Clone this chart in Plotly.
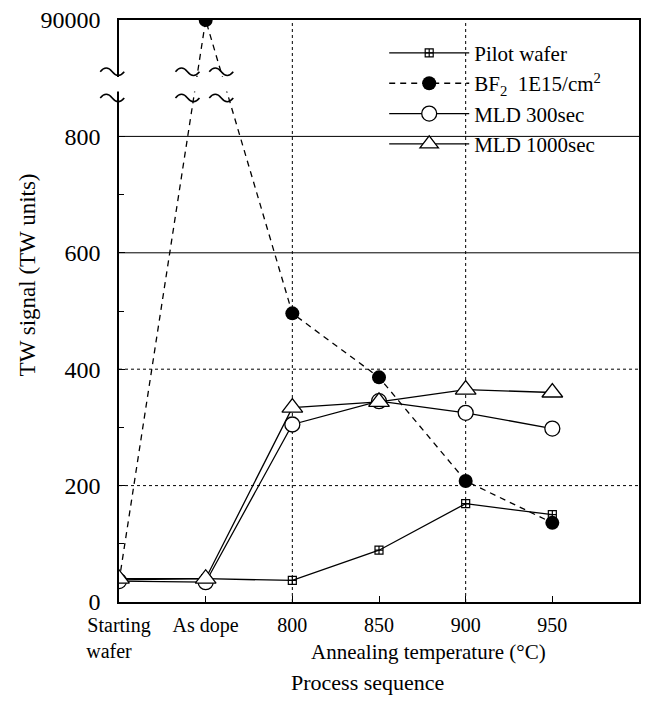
import plotly.graph_objects as go

# ---------------- data ----------------
categories = ["Starting<br>wafer&nbsp;&nbsp;&nbsp;&nbsp;", "As dope", "800", "850", "900", "950"]
pilot_wafer = [38, 40, 37, 89, 169, 150]
bf2_1e15 = [35, 90000, 496, 386, 208, 136]
mld_300 = [36, 34, 305, 345, 325, 298]
mld_1000 = [40, 40, 334, 344, 365, 360]
y_tick_values = [0, 200, 400, 600, 800, 90000]
y_tick_labels = ["0", "200", "400", "600", "800", "90000"]

# broken axis: everything above the break is drawn at the axis top
BREAK_LOW = 900
AXIS_TOP = 1000


def ymap(v):
    return v if v <= BREAK_LOW else AXIS_TOP


xs = list(range(len(categories)))
FONT = "Liberation Serif, Times New Roman, serif"

fig = go.Figure()

fig.add_trace(go.Scatter(
    x=xs, y=[ymap(v) for v in pilot_wafer], name="Pilot wafer",
    mode="lines+markers", legendgroup="a",
    line=dict(color="black", width=1.3),
    marker=dict(symbol="square-cross-open", size=8, color="black",
                line=dict(color="black", width=1.2)),
))
fig.add_trace(go.Scatter(
    x=xs, y=[ymap(v) for v in bf2_1e15], name="BF<sub>2</sub>  1E15/cm<sup>2</sup>",
    mode="lines+markers", legendgroup="b",
    line=dict(color="black", width=1.3, dash="6px,5px"),
    marker=dict(symbol="circle", size=14, color="black"),
))
fig.add_trace(go.Scatter(
    x=xs, y=[ymap(v) for v in mld_300], name="MLD 300sec",
    mode="lines+markers", legendgroup="c",
    line=dict(color="black", width=1.3),
    marker=dict(symbol="circle", size=15, color="white",
                line=dict(color="black", width=1.3)),
))
fig.add_trace(go.Scatter(
    x=xs, y=[ymap(v) for v in mld_1000], name="MLD 1000sec",
    mode="lines+markers", legendgroup="d",
    line=dict(color="black", width=1.3),
    marker=dict(symbol="triangle-up", size=18, color="white",
                line=dict(color="black", width=1.3)),
))

shapes = []
# horizontal grid lines (dotted low, solid high)
for v in [200, 400]:
    shapes.append(dict(type="line", xref="paper", yref="y", x0=0, x1=1, y0=v, y1=v,
                       line=dict(color="black", width=1, dash="dot"), layer="below"))
for v in [600, 800]:
    shapes.append(dict(type="line", xref="paper", yref="y", x0=0, x1=1, y0=v, y1=v,
                       line=dict(color="black", width=1), layer="below"))
# vertical dotted grid lines at 800 and 900 °C
for c in ["800", "900"]:
    xi = categories.index(c)
    shapes.append(dict(type="line", xref="x", yref="paper", x0=xi, x1=xi, y0=0, y1=1,
                       line=dict(color="black", width=1, dash="dot"), layer="below"))
# white gap for the axis break
shapes.append(dict(type="rect", xref="paper", yref="y", x0=-0.03, x1=0.3,
                   y0=877, y1=902, fillcolor="white", line=dict(width=0), layer="above"))

# wavy break marks (pixel-sized paths anchored on the y axis and the BF2 segments)
TILDE = "M-12,0 C-8,5 -4,5 0,0 C4,-5 8,-5 12,0"
for by in [911, 866]:
    shapes.append(dict(type="path", xref="paper", yref="y", xsizemode="pixel",
                       ysizemode="pixel", xanchor=-0.013, yanchor=by, path=TILDE,
                       line=dict(color="black", width=1.6), layer="above"))
    for bx in [0.79, 1.18]:
        shapes.append(dict(type="path", xref="x", yref="y", xsizemode="pixel",
                           ysizemode="pixel", xanchor=bx, yanchor=by, path=TILDE,
                           line=dict(color="black", width=1.6), layer="above"))
fig.update_layout(shapes=shapes)

annotations = [
    dict(x=-0.176, y=0.562, xref="paper", yref="paper", text="TW signal (TW units)",
         textangle=-90, showarrow=False, xanchor="center", yanchor="middle",
         font=dict(family=FONT, size=23, color="black")),
    dict(x=0.596, y=-0.086, xref="paper", yref="paper", text="Annealing temperature (°C)",
         showarrow=False, xanchor="center", yanchor="middle",
         font=dict(family=FONT, size=21, color="black")),
    dict(x=0.477, y=-0.1375, xref="paper", yref="paper", text="Process sequence",
         showarrow=False, xanchor="center", yanchor="middle",
         font=dict(family=FONT, size=22, color="black")),
]
fig.update_layout(annotations=annotations)

fig.update_layout(
    width=647, height=709,
    margin=dict(l=119, r=6, t=20, b=107),
    plot_bgcolor="white", paper_bgcolor="white",
    font=dict(family=FONT, color="black"),
    showlegend=True,
    legend=dict(x=0.51, y=0.978, xanchor="left", yanchor="top",
                font=dict(family=FONT, size=21, color="black"),
                itemwidth=80, tracegroupgap=0, bgcolor="rgba(0,0,0,0)",
                borderwidth=0),
    xaxis=dict(range=[0, 6], tickmode="array", tickvals=xs, ticktext=categories,
               ticks="inside", ticklen=6, tickcolor="black",
               showline=True, linecolor="black", linewidth=1.5, mirror=True,
               showgrid=False, zeroline=False,
               tickfont=dict(family=FONT, size=20, color="black"),
               ticklabelstandoff=4),
    yaxis=dict(range=[0, AXIS_TOP], tickmode="array",
               tickvals=[ymap(v) for v in y_tick_values], ticktext=y_tick_labels,
               ticks="inside", ticklen=6, tickcolor="black",
               minor=dict(tick0=0, dtick=100, ticks="inside", ticklen=5,
                          tickcolor="black", showgrid=False),
               showline=True, linecolor="black", linewidth=1.5, mirror=True,
               showgrid=False, zeroline=False,
               tickfont=dict(family=FONT, size=24, color="black"),
               ticklabelstandoff=12),
)

fig.write_html("out.html")
